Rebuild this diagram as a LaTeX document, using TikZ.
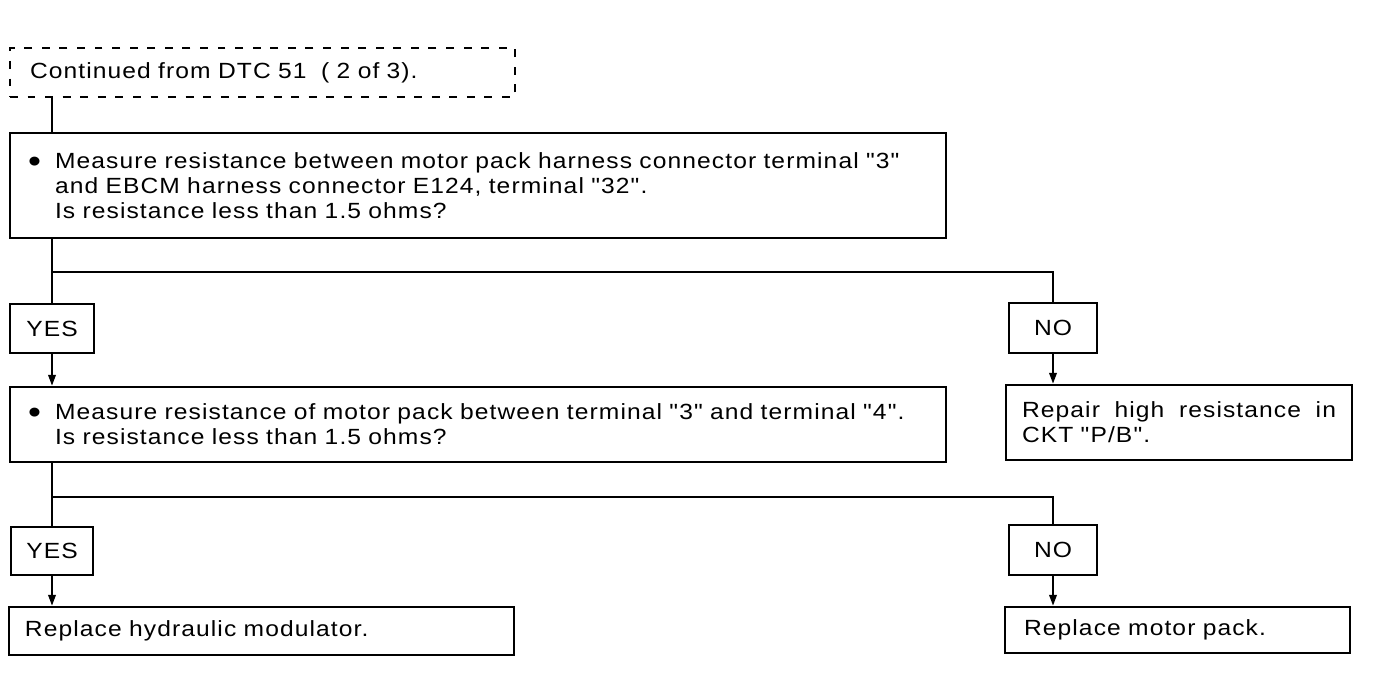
\documentclass[tikz,border=0pt]{standalone}
\usepackage{fontspec}
\newfontfamily\manualfont{Liberation Sans}[FakeStretch=1.12,LetterSpace=5]
\usetikzlibrary{arrows.meta,positioning}
\newcommand{\dtcbullet}{\makebox[0.54cm][l]{\raisebox{-0.35ex}{\scalebox{1.5}{•}}}}
\tikzset{
dtcbox/.style={rectangle,draw,line width=1.4pt,align=left,inner ysep=0pt},
dtcstart/.style={rectangle,draw,line width=1pt,dash pattern=on 4.5pt off 5.5pt,align=left,inner ysep=0pt},
dtcans/.style={rectangle,draw,line width=1.4pt,align=center,inner sep=0pt},
dtcline/.style={line width=1.2pt},
dtcarr/.style={-{Triangle[length=2.2mm,width=1.5mm]},line width=1.2pt}
}

\begin{document}
\begin{tikzpicture}[
x=1cm,
y=1cm,
every node/.style={font=\manualfont\fontsize{12.5}{14.2}\selectfont}
]
\useasboundingbox (0,0) rectangle (27.52,-13.96);
\node[dtcstart,text width=9.30cm,inner xsep=0.40cm,minimum height=0.98cm]
  (cont) at (5.25,-1.45) {Continued from DTC 51~~( 2 of 3).};
\node[dtcbox,text width=18.00cm,inner xsep=0.36cm,minimum height=2.10cm]
  (check1) at (9.56,-3.71) {\dtcbullet Measure resistance between motor pack harness connector terminal "3"\\
  \hspace*{0.54cm}and EBCM harness connector E124, terminal "32".\\
  \hspace*{0.54cm}Is resistance less than 1.5 ohms?};
\coordinate (split1) at (1.04,-5.44);
\node[dtcans,minimum width=1.68cm,minimum height=0.98cm]
  (yes1) at (1.04,-6.57) {YES};
\node[dtcans,minimum width=1.76cm,minimum height=1.00cm]
  (no1) at (21.06,-6.56) {NO};
\node[dtcbox,text width=18.00cm,inner xsep=0.36cm,minimum height=1.50cm]
  (check2) at (9.56,-8.49) {\dtcbullet Measure resistance of motor pack between terminal "3" and terminal "4".\\
  \hspace*{0.54cm}Is resistance less than 1.5 ohms?};
\node[dtcbox,text width=6.28cm,inner xsep=0.32cm,minimum height=1.50cm]
  (repair) at (23.58,-8.45) {\makebox[6.28cm]{Repair\hfill high\hfill resistance\hfill in}\\CKT "P/B".};
\coordinate (split2) at (1.04,-9.94);
\node[dtcans,minimum width=1.64cm,minimum height=0.96cm]
  (yes2) at (1.04,-11.02) {YES};
\node[dtcans,minimum width=1.76cm,minimum height=1.00cm]
  (no2) at (21.06,-11.00) {NO};
\node[dtcbox,text width=9.46cm,inner xsep=0.32cm,minimum height=0.96cm]
  (hydraulic) at (5.23,-12.62) {Replace hydraulic modulator.};
\node[dtcbox,text width=6.14cm,inner xsep=0.38cm,minimum height=0.92cm]
  (motor) at (23.55,-12.60) {Replace motor pack.};
\draw[dtcline] (yes1 |- cont.south)--(yes1 |- check1.north);
\draw[dtcline] (yes1 |- check1.south)--(yes1.north);
\draw[dtcline] (split1)--(split1 -| no1)--(no1.north);
\draw[dtcarr] (yes1.south)--(yes1 |- check2.north);
\draw[dtcarr] (no1.south)--(no1 |- repair.north);
\draw[dtcline] (yes1 |- check2.south)--(yes2.north);
\draw[dtcline] (split2)--(split2 -| no2)--(no2.north);
\draw[dtcarr] (yes2.south)--(yes2 |- hydraulic.north);
\draw[dtcarr] (no2.south)--(no2 |- motor.north);
\end{tikzpicture}
\end{document}
